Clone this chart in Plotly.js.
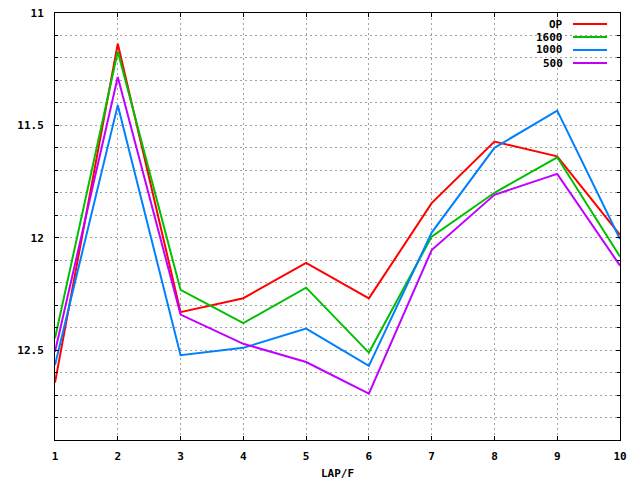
<!DOCTYPE html>
<html>
<head>
<meta charset="utf-8">
<script src="https://cdn.plot.ly/plotly-3.0.1.min.js"></script>
<style>
  html, body { margin: 0; padding: 0; background: #fff; }
  #chart { width: 640px; height: 480px; }
</style>
</head>
<body>
<div id="chart"></div>
<script>
// laps on the x axis
var laps = [1, 2, 3, 4, 5, 6, 7, 8, 9, 10];

// series values (y axis is reversed)
var seriesOP   = [12.645, 11.137, 12.331, 12.269, 12.112, 12.270, 11.846, 11.572, 11.638, 11.987];
var series1600 = [12.447, 11.171, 12.232, 12.380, 12.222, 12.511, 11.995, 11.800, 11.642, 12.084];
var series1000 = [12.566, 11.410, 12.523, 12.490, 12.404, 12.570, 11.977, 11.600, 11.434, 12.006];
var series500  = [12.507, 11.285, 12.342, 12.472, 12.553, 12.694, 12.055, 11.809, 11.716, 12.124];

var seriesNames  = ['OP', '1600', '1000', '500'];
var seriesColors = ['#ff0000', '#00c000', '#0080ff', '#c000ff'];
var allSeries    = [seriesOP, series1600, series1000, series500];

var yTickVals = [11, 11.5, 12, 12.5];
var yTickText = ['11', '11.5', '12', '12.5'];

var monoFont = {family: 'DejaVu Sans Mono, Liberation Mono, monospace', size: 11, color: '#000', weight: 'bold'};

var data = [];
allSeries.forEach(function(vals, indx){
	data.push({
		x: laps,
		y: vals,
		name: seriesNames[indx],
		type: 'scatter',
		mode: 'lines',
		line: {color: seriesColors[indx], width: 2},
		hoverinfo: 'skip'
	});
});

// legend drawn gnuplot style: label on the left, line sample on the right
var annotations = [];
var shapes = [];
var legTop = 1 - 11 / 427;
var legStep = 13 / 427;
seriesNames.forEach(function(name, indx){
	var yy = legTop - indx * legStep;
	annotations.push({
		xref: 'paper', yref: 'paper',
		x: 0.9027, y: yy,
		xanchor: 'right', yanchor: 'middle',
		text: name, showarrow: false,
		font: monoFont
	});
	shapes.push({
		type: 'line', xref: 'paper', yref: 'paper',
		x0: 0.9168, x1: 0.977, y0: yy, y1: yy,
		line: {color: seriesColors[indx], width: 2}
	});
});

var gridStyle = {gridcolor: '#a0a0a0', gridwidth: 1, griddash: '2px,3px'};

var layout = {
	width: 640,
	height: 480,
	margin: {l: 55, r: 20, t: 13, b: 40},
	paper_bgcolor: '#fff',
	plot_bgcolor: '#fff',
	showlegend: false,
	font: monoFont,
	xaxis: Object.assign({
		range: [1, 10],
		tickvals: laps,
		ticktext: laps.map(String),
		showgrid: true,
		zeroline: false,
		showline: true, mirror: 'ticks',
		linecolor: '#000', linewidth: 1,
		ticks: 'inside', ticklen: 4, tickcolor: '#000',
		ticklabelstandoff: 6,
		tickfont: monoFont,
		title: {text: 'LAP/F', font: monoFont, standoff: 7}
	}, gridStyle),
	yaxis: Object.assign({
		range: [12.9, 11],
		tickvals: yTickVals,
		ticktext: yTickText,
		showgrid: true,
		zeroline: false,
		showline: true, mirror: 'ticks',
		linecolor: '#000', linewidth: 1,
		ticks: 'inside', ticklen: 4, tickcolor: '#000',
		ticklabelstandoff: 8,
		tickfont: monoFont,
		minor: {
			dtick: 0.1, tick0: 11,
			showgrid: true, gridcolor: '#a0a0a0', gridwidth: 1, griddash: '2px,3px',
			ticks: 'inside', ticklen: 3, tickcolor: '#000'
		}
	}, gridStyle),
	annotations: annotations,
	shapes: shapes
};

Plotly.newPlot('chart', data, layout, {staticPlot: true});
</script>
</body>
</html>
